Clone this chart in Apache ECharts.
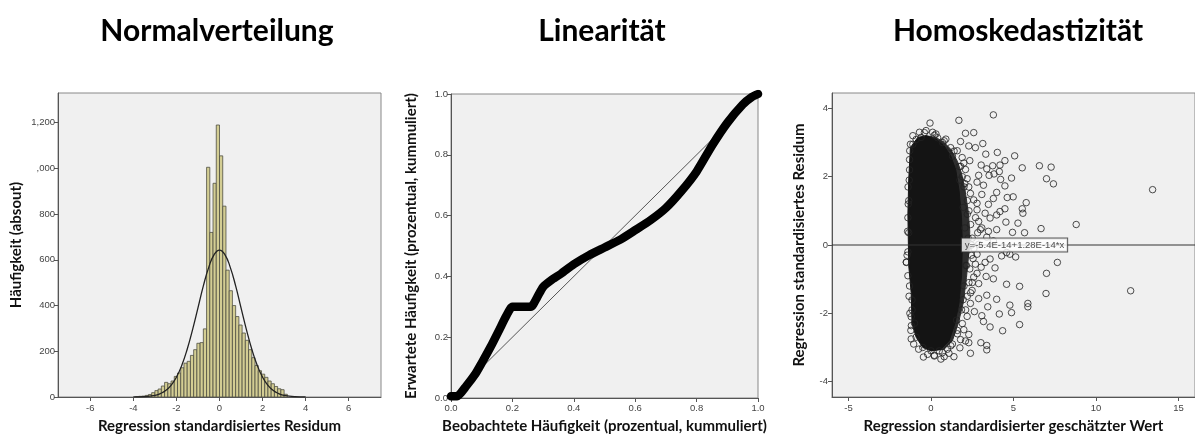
<!DOCTYPE html>
<html><head><meta charset="utf-8">
<script src="https://cdn.jsdelivr.net/npm/echarts@6/dist/echarts.min.js"></script>
<style>html,body{margin:0;padding:0;background:#fff}#c{width:1195px;height:439px}</style>
</head><body><div id="c"></div>
<script>
// ---------- Panel 1: histogram ----------
const BIN_W = 0.15;
const BIN_FIRST = -3.9;
const histCounts = [1, 3, 4, 7, 11, 19, 28, 35, 48, 64, 58, 70, 90, 105, 128, 148, 156, 182, 207, 235, 238, 298,
  1005, 720, 935, 1190, 1055, 835, 555, 465, 400, 352, 315, 280, 248, 207, 172, 138, 115, 100, 86, 70, 58, 46, 36, 32, 12];
const histYTicks = [0, 200, 400, 600, 800, 1000, 1200];
const histYLabels = ['0', '200', '400', '600', '800', ',000', '1,200'];
const histXTicks = [-6, -4, -2, 0, 2, 4, 6];
const normX = [-4, -3.5, -3, -2.75, -2.5, -2.25, -2, -1.75, -1.5, -1.25, -1, -0.75, -0.5, -0.25, 0, 0.25, 0.5, 0.75, 1, 1.25, 1.5, 1.75, 2, 2.25, 2.5, 2.75, 3, 3.5, 4];
const normY = [0.2, 1.4, 7, 15, 28, 51, 87, 139, 209, 295, 390, 486, 567, 623, 643, 623, 567, 486, 390, 295, 209, 139, 87, 51, 28, 15, 7, 1.4, 0.2];

// ---------- Panel 2: P-P plot ----------
const ppX = [0, 0.02, 0.05, 0.08, 0.1, 0.13, 0.16, 0.18, 0.2, 0.26, 0.28, 0.3, 0.33, 0.36, 0.4, 0.45, 0.5, 0.55, 0.6, 0.65, 0.7, 0.75, 0.8, 0.85, 0.9, 0.95, 0.98, 1.0];
const ppY = [0.006, 0.006, 0.04, 0.08, 0.115, 0.17, 0.23, 0.27, 0.30, 0.30, 0.33, 0.365, 0.39, 0.41, 0.44, 0.47, 0.495, 0.52, 0.552, 0.585, 0.625, 0.68, 0.745, 0.83, 0.905, 0.965, 0.99, 1.0];

// ---------- Panel 3: residual scatter ----------
const scatterX = [3.78,1.69,-0.06,2.09,2.59,1.79,3.14,2.29,2.69,4.02,3.32,5.07,4.48,2.35,3.04,3.74,4.18,6.57,5.53,7.28,3.38,3.52,3.82,4.14,2.89,4.22,4.88,7.0,7.42,2.79,3.18,4.48,2.29,3.98,3.08,4.62,4.98,5.77,3.78,3.48,2.79,5.53,4.48,4.18,3.98,5.57,3.28,3.58,4.54,5.27,6.67,8.80,13.43,4.94,5.67,3.98,3.48,3.08,2.83,3.38,3.78,4.78,5.13,4.28,4.58,3.58,3.28,7.66,3.88,7.0,3.04,2.79,3.34,3.78,2.89,4.58,5.37,6.97,12.10,3.98,3.38,2.89,4.78,5.87,5.87,3.44,2.63,3.08,4.14,4.88,5.37,3.58,4.34,3.18,2.29,2.29,3.02,3.38,3.38,2.39,1.39,0.80,-0.46,0.60,0.20,1.09,1.75,2.09,-1.19,-1.0,-1.15,-1.15,-1.49,-1.35,-1.39,-1.29,-0.90,-0.40,0.20,0.40,0.80,1.19,1.59,1.89,1.99,2.09,2.19,2.39,2.59,2.79,2.89,2.99,2.89,2.79,2.69,2.59,2.49,2.39,2.19,1.99,1.79,
  1.7,1.9,2.0,2.2,2.3,2.4,2.5,2.45,2.35,2.3,2.2,2.1,1.9,1.6,1.3,1.0,0.5,0.0,-0.5,-0.9,-1.2,-1.3,-1.4,-1.4,-1.35,-1.3,-1.1,-0.6,0.1,0.7,1.3,2.7,2.6,2.5,
  -1.3,-1.32,-1.38,-1.42,-1.45,-1.4,-1.33,-1.28,-1.22,-1.2,-1.25,-1.1,-0.7,-0.3,0.3,0.9,1.4,1.8,2.05,2.2,2.15,1.95,1.6,1.2,0.7,0.2,-0.2,-0.75,-1.05,-1.5,
  1.95,2.05,2.15,2.1,2.0,1.85,2.25,2.45,2.55,2.4,1.75,1.55];
const scatterY = [3.81,3.65,3.57,3.27,3.29,3.03,2.97,2.90,2.85,2.71,2.66,2.61,2.47,2.47,2.34,2.32,2.34,2.32,2.26,2.28,2.23,2.04,2.08,2.15,2.04,1.92,1.96,1.94,1.79,1.84,1.75,1.73,1.70,1.54,1.48,1.39,1.41,1.24,1.36,1.19,1.22,1.06,1.06,0.98,0.88,0.93,0.93,0.79,0.67,0.64,0.48,0.60,1.62,0.37,0.36,0.45,0.40,0.50,0.36,0.23,0.12,-0.27,-0.35,-0.32,-0.22,-0.41,-0.51,-0.51,-0.67,-0.83,-0.65,-0.83,-0.92,-0.99,-1.13,-1.15,-1.21,-1.42,-1.34,-1.59,-1.47,-1.57,-1.76,-1.71,-1.81,-1.81,-1.95,-2.07,-2.02,-1.98,-2.33,-2.40,-2.51,-2.24,-2.62,-2.86,-2.86,-2.94,-3.07,-3.17,-3.27,-3.27,-3.28,-3.34,-3.23,-3.17,-3.01,-2.81,-2.36,-2.29,-1.90,-1.61,-0.51,0.36,1.70,2.76,3.09,3.29,3.21,3.14,3.05,2.85,2.76,2.56,2.40,2.21,1.94,1.51,1.32,1.03,0.69,0.45,0.02,-0.27,-0.56,-0.94,-1.33,-1.71,-2.09,-2.48,-2.77,
  2.3,2.0,1.7,1.3,1.0,0.6,0.2,-0.3,-0.7,-1.1,-1.5,-1.9,-2.3,-2.6,-2.9,-3.05,-3.1,-3.1,-3.0,-2.7,-2.1,-1.2,-0.2,0.8,1.3,2.2,2.95,3.15,3.3,3.0,2.6,0.8,-0.1,-1.1,
  2.5,1.9,1.2,0.4,-0.3,-0.9,-1.5,-2.0,-2.5,-2.75,2.95,3.2,3.3,3.35,3.25,3.1,2.75,2.3,1.8,0.9,-0.6,-1.6,-2.5,-2.95,-3.15,-3.25,-3.2,-3.05,-2.9,-0.5,
  1.1,0.5,-0.1,-0.6,-1.2,-1.9,0.2,0.0,-0.4,-1.4,1.9,-2.2];
// outline of the solid (over-plotted) core and of its denser fringe
const coreOutline = [[-1.25,2.85],[-0.8,3.15],[-0.3,3.2],[0.3,3.1],[0.8,2.9],[1.2,2.6],[1.5,2.2],[1.7,1.6],[1.85,0.8],[1.9,0],[1.85,-0.9],[1.7,-1.7],[1.45,-2.3],[1.1,-2.8],[0.6,-3.05],[0.0,-3.1],[-0.5,-3.0],[-0.9,-2.7],[-1.15,-2.3],[-1.2,-1.4],[-1.35,-0.6],[-1.4,0.9],[-1.35,1.9]];
const fringeOutline = [[-0.3,3.2],[0.3,3.15],[0.8,3.0],[1.2,2.8],[1.6,2.45],[1.85,2.1],[2.05,1.65],[2.25,1.0],[2.35,0.4],[2.3,-0.2],[2.15,-0.95],[1.95,-1.7],[1.65,-2.3],[1.3,-2.8],[0.8,-3.05],[0.0,-3.1]];
const residXTicks = [-5, 0, 5, 10, 15];
const residYTicks = [-4, -2, 0, 2, 4];
const fitLineX = [-6, 16];
const fitLineY = [0, 0];
const fitLabel = 'y=-5.4E-14+1.28E-14*x';
const fitLabelPos = [5.06, 0];

const titles = ['Normalverteilung', 'Linearität', 'Homoskedastizität'];

// ---------- styles ----------
const TICK_FONT = {fontFamily: 'Liberation Sans', fontSize: 9.5, color: '#444'};
const NAME_FONT = {fontFamily: 'Lato', fontWeight: 'bold', fontSize: 15, color: '#111'};
const AX_LINE = {show: true, onZero: false, lineStyle: {color: '#555', width: 1}};
const AX_TICK = {show: true, length: 4, lineStyle: {color: '#555'}};

function valAxis(extra) {
  return Object.assign({
    type: 'value', axisLine: AX_LINE, splitLine: {show: false},
    nameLocation: 'middle', nameTextStyle: NAME_FONT
  }, extra);
}

const chart = echarts.init(document.getElementById('c'), null, {renderer: 'canvas'});
const histData = histCounts.map((c, i) => [BIN_FIRST + i * BIN_W, c]);

function polygonRenderer(outline, fill) {
  return function (params, api) {
    return {type: 'polygon', shape: {points: outline.map(p => api.coord(p))}, style: {fill: fill, stroke: fill, lineWidth: 1}};
  };
}

const TITLE_FONT = 'bold 30px Lato';
chart.setOption({
  animation: false,
  graphic: [
    {type: 'text', x: 217, y: 31, style: {text: titles[0], align: 'center', verticalAlign: 'middle', font: TITLE_FONT, fill: '#000'}},
    {type: 'text', x: 602, y: 31, style: {text: titles[1], align: 'center', verticalAlign: 'middle', font: TITLE_FONT, fill: '#000'}},
    {type: 'text', x: 1018, y: 31, style: {text: titles[2], align: 'center', verticalAlign: 'middle', font: TITLE_FONT, fill: '#000'}}
  ],
  grid: [
    {left: 58, top: 93, width: 323, height: 306, show: true, backgroundColor: '#f0f0f0', borderColor: '#888', borderWidth: 1},
    {left: 451, top: 94, width: 307, height: 308, show: true, backgroundColor: '#f0f0f0', borderColor: '#888', borderWidth: 1},
    {left: 832, top: 93, width: 369, height: 308, show: true, backgroundColor: '#f0f0f0', borderColor: '#888', borderWidth: 1}
  ],
  xAxis: [
    valAxis({gridIndex: 0, min: -7.5, max: 7.5, name: 'Regression standardisiertes Residum', nameGap: 22,
      axisTick: Object.assign({customValues: histXTicks}, AX_TICK),
      axisLabel: Object.assign({customValues: histXTicks, margin: 6}, TICK_FONT)}),
    valAxis({gridIndex: 1, min: 0, max: 1, interval: 0.2, name: 'Beobachtete Häufigkeit (prozentual, kummuliert)', nameGap: 21,
      axisTick: AX_TICK,
      axisLabel: Object.assign({formatter: v => v.toFixed(1), margin: 5}, TICK_FONT)}),
    valAxis({gridIndex: 2, min: -6, max: 16, name: 'Regression standardisierter geschätzter Wert', nameGap: 22,
      axisTick: Object.assign({customValues: residXTicks}, AX_TICK),
      axisLabel: Object.assign({customValues: residXTicks, margin: 6}, TICK_FONT)})
  ],
  yAxis: [
    valAxis({gridIndex: 0, min: 0, max: 1330, name: 'Häufigkeit (absout)', nameGap: 34,
      axisTick: Object.assign({customValues: histYTicks}, AX_TICK),
      axisLabel: Object.assign({customValues: histYTicks, margin: 3,
        formatter: v => histYLabels[histYTicks.indexOf(v)]}, TICK_FONT)}),
    valAxis({gridIndex: 1, min: 0, max: 1, interval: 0.2, name: 'Erwartete Häufigkeit (prozentual, kummuliert)', nameGap: 32,
      axisTick: AX_TICK,
      axisLabel: Object.assign({formatter: v => v.toFixed(1), margin: 3}, TICK_FONT)}),
    valAxis({gridIndex: 2, min: -4.45, max: 4.45, name: 'Regression standardisiertes Residum', nameGap: 25,
      axisTick: Object.assign({customValues: residYTicks}, AX_TICK),
      axisLabel: Object.assign({customValues: residYTicks, margin: 4}, TICK_FONT)})
  ],
  series: [
    {type: 'custom', xAxisIndex: 0, yAxisIndex: 0, data: histData, encode: {x: 0, y: 1}, clip: true,
      renderItem: function (params, api) {
        const x0 = api.value(0), h = api.value(1);
        const p0 = api.coord([x0, h]);
        const p1 = api.coord([x0 + BIN_W, 0]);
        return {type: 'rect', shape: {x: p0[0], y: p0[1], width: p1[0] - p0[0], height: p1[1] - p0[1]},
          style: {fill: '#d3cd93', stroke: '#4f4f42', lineWidth: 0.8}};
      }},
    {type: 'line', xAxisIndex: 0, yAxisIndex: 0, data: normX.map((x, i) => [x, normY[i]]), smooth: true,
      showSymbol: false, lineStyle: {color: '#222', width: 1.3}, z: 3},

    {type: 'line', xAxisIndex: 1, yAxisIndex: 1, data: [[0, 0], [1, 1]], showSymbol: false,
      lineStyle: {color: '#555', width: 1}},
    {type: 'line', xAxisIndex: 1, yAxisIndex: 1, data: ppX.map((x, i) => [x, ppY[i]]), showSymbol: false,
      smooth: 0.2, lineStyle: {color: '#000', width: 8.5, cap: 'round', join: 'round'}, z: 3},

    {type: 'custom', xAxisIndex: 2, yAxisIndex: 2, data: [[0, 0]], clip: true, silent: true,
      renderItem: polygonRenderer(fringeOutline, '#2e2e2e'), z: 1},
    {type: 'custom', xAxisIndex: 2, yAxisIndex: 2, data: [[0, 0]], clip: true, silent: true,
      renderItem: polygonRenderer(coreOutline, '#141414'), z: 1},
    {type: 'scatter', xAxisIndex: 2, yAxisIndex: 2, data: scatterX.map((x, i) => [x, scatterY[i]]),
      symbol: 'circle', symbolSize: 6.5, itemStyle: {color: 'rgba(0,0,0,0)', borderColor: '#222', borderWidth: 1}, z: 2},
    {type: 'line', xAxisIndex: 2, yAxisIndex: 2, data: fitLineX.map((x, i) => [x, fitLineY[i]]), showSymbol: false,
      lineStyle: {color: '#333', width: 1}, z: 3},
    {type: 'scatter', xAxisIndex: 2, yAxisIndex: 2, data: [fitLabelPos], symbolSize: 0, z: 5,
      label: {show: true, position: 'inside', formatter: fitLabel, backgroundColor: '#fff', borderColor: '#333',
        borderWidth: 1, padding: [2, 3, 1, 3], fontFamily: 'Liberation Sans', fontSize: 9.5, color: '#222'}}
  ]
});
</script></body></html>
